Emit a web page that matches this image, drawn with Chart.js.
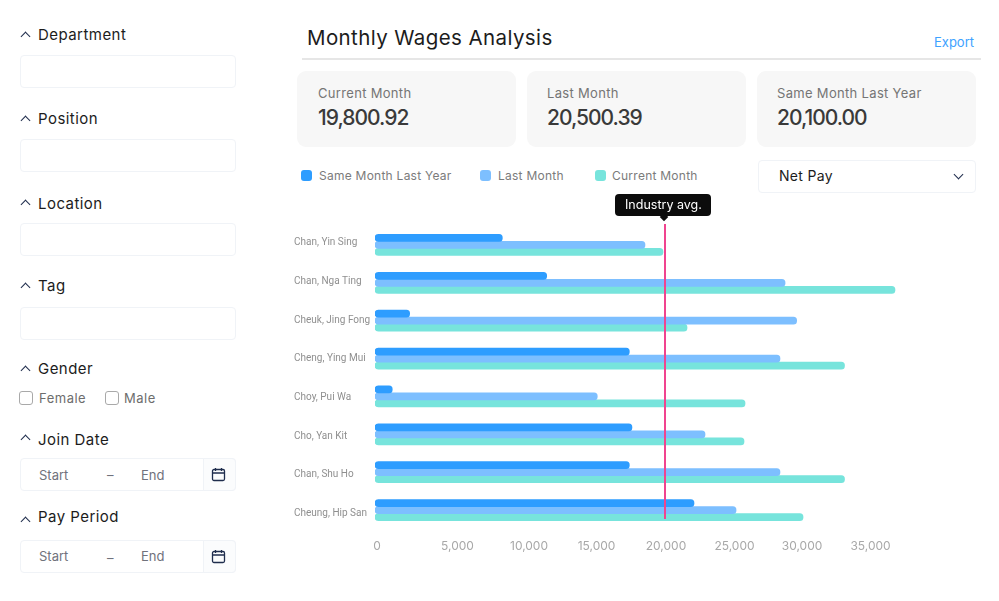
<!DOCTYPE html>
<html>
<head>
<meta charset="utf-8">
<title>Monthly Wages Analysis</title>
<script src="https://cdn.jsdelivr.net/npm/chart.js@4"></script>
<style>
* { box-sizing: border-box; }
html, body { margin: 0; padding: 0; background: #fff; }
body { width: 999px; height: 601px; position: relative; overflow: hidden; font-family: Inter, "Noto Sans", sans-serif; color: #1c1c1c; }
.abs { position: absolute; white-space: nowrap; line-height: 1; }
.head { left: 38px; font-size: 15px; transform: translateY(-50%); letter-spacing: .45px; }
.chev { position: absolute; left: 22px; width: 7px; height: 7px; border-left: 1.5px solid #1f2d4d; border-top: 1.5px solid #1f2d4d; transform: rotate(45deg); }
.box { position: absolute; left: 20px; width: 216px; height: 33px; border: 1px solid #f0f3f7; border-radius: 4px; background: #fff; }
.check { position: absolute; width: 14px; height: 14px; border: 1.5px solid #a9a9a9; border-radius: 3px; top: 391px; }
.small { font-size: 13px; color: #6d6d6d; transform: translateY(-50%); letter-spacing: .5px; }
.date { font-size: 13px; color: #70727c; transform: translateY(-50%); }
.cal { position: absolute; left: 203px; width: 33px; height: 33px; background: #fbfcfd; border: 1px solid #f0f3f7; border-radius: 0 4px 4px 0; }
.cal svg { position: absolute; left: 7px; top: 8px; }
.card { position: absolute; top: 71px; width: 219px; height: 76px; background: #f7f7f7; border-radius: 9px; }
.card .lab { position: absolute; left: 21px; top: 15px; font-size: 13px; color: #757575; line-height: 14px; white-space: nowrap; letter-spacing: .32px; }
.card .val { position: absolute; left: 21px; top: 35px; font-size: 21px; font-weight: 500; color: #3a3a3a; line-height: 24px; white-space: nowrap; letter-spacing: -1px; }
.swatch { position: absolute; top: 170px; width: 11px; height: 11px; border-radius: 3px; }
.leg { font-size: 12px; color: #7b7b7b; top: 176px; transform: translateY(-50%); letter-spacing: .25px; }
canvas { position: absolute; left: 280px; top: 216px; }
</style>
</head>
<body>

<div class="abs head" style="top:34px">Department</div><div class="chev" style="top:33px"></div><div class="box" style="top:55px"></div>
<div class="abs head" style="top:118px">Position</div><div class="chev" style="top:117px"></div><div class="box" style="top:139px"></div>
<div class="abs head" style="top:203px">Location</div><div class="chev" style="top:201px"></div><div class="box" style="top:223px"></div>
<div class="abs head" style="top:285px">Tag</div><div class="chev" style="top:284px"></div><div class="box" style="top:307px"></div>

<div class="abs head" style="top:368px">Gender</div><div class="chev" style="top:367px"></div>
<div class="check" style="left:19px"></div><div class="abs small" style="left:39px;top:398px">Female</div>
<div class="check" style="left:105px"></div><div class="abs small" style="left:124px;top:398px">Male</div>

<div class="abs head" style="top:439px">Join Date</div><div class="chev" style="top:436px"></div>
<div class="box" style="top:458px"></div>
<div class="abs date" style="left:39px;top:475px">Start</div><div class="abs date" style="left:107px;top:475px">–</div><div class="abs date" style="left:141px;top:475px">End</div>
<div class="cal" style="top:458px"><svg width="15" height="15" viewBox="0 0 15 15" fill="none" stroke="#1f2d4d" stroke-width="1.3"><rect x="1.5" y="2.5" width="12" height="11" rx="1.5"/><path d="M1.5 6h12M4.5 1v3M10.500 1v3"/></svg></div>

<div class="abs head" style="top:516px">Pay Period</div><div class="chev" style="top:518px"></div>
<div class="box" style="top:540px"></div>
<div class="abs date" style="left:39px;top:556px">Start</div><div class="abs date" style="left:107px;top:558px">–</div><div class="abs date" style="left:141px;top:556px">End</div>
<div class="cal" style="top:540px"><svg width="15" height="15" viewBox="0 0 15 15" fill="none" stroke="#1f2d4d" stroke-width="1.3"><rect x="1.5" y="2.5" width="12" height="11" rx="1.5"/><path d="M1.5 6h12M4.5 1v3M10.500 1v3"/></svg></div>

<div class="abs" style="left:307px;top:27px;font-size:20.500px;line-height:22px;letter-spacing:.4px">Monthly Wages Analysis</div>
<div class="abs" style="left:934px;top:36px;font-size:13px;color:#3ea2ff">Export</div>
<div style="position:absolute;left:302px;top:58px;width:679px;height:2px;background:#e6e6e6"></div>

<div class="card" style="left:297px"><div class="lab">Current Month</div><div class="val">19,800.92</div></div>
<div class="card" style="left:527px"><div class="lab" style="left:20px">Last Month</div><div class="val" style="left:20px">20,500.39</div></div>
<div class="card" style="left:757px"><div class="lab" style="left:20px">Same Month Last Year</div><div class="val" style="left:20px">20,100.00</div></div>

<div id="legend"></div>

<div style="position:absolute;left:758px;top:160px;width:218px;height:33px;border:1px solid #f0f3f7;border-radius:4px"></div>
<div class="abs" style="left:779px;top:176px;font-size:14px;letter-spacing:.3px;transform:translateY(-50%)">Net Pay</div>
<div class="chev" style="left:955px;top:171px;transform:rotate(225deg)"></div>

<canvas id="wagesChart" width="640" height="343"></canvas>

<div style="position:absolute;left:615px;top:194px;width:96px;height:22px;background:#0c0c0c;border-radius:4px"></div>
<div style="position:absolute;left:661px;top:214px;width:6px;height:6px;background:#0c0c0c;transform:rotate(45deg)"></div>
<div class="abs" style="left:625px;top:205px;font-size:12.500px;color:#fff;transform:translateY(-50%)">Industry avg.</div>

<script>
const employees = [
    "Chan, Yin Sing",
    "Chan, Nga Ting",
    "Cheuk, Jing Fong",
    "Cheng, Ying Mui",
    "Choy, Pui Wa",
    "Cho, Yan Kit",
    "Chan, Shu Ho",
    "Cheung, Hip San"
];

const sameMonthLastYear = [8780, 11840, 2390, 17540, 1190, 17720, 17540, 22000];
const lastMonth = [18620, 28280, 29080, 27930, 15330, 22760, 27930, 24900];
const currentMonth = [19860, 35860, 21520, 32380, 25520, 25450, 32380, 29520];

const seriesNames = ["Same Month Last Year", "Last Month", "Current Month"];
const seriesColors = ["#2e9dff", "#7dbfff", "#77e4dc"];

const tickValues = [0, 5000, 10000, 15000, 20000, 25000, 30000, 35000];
const industryAvg = 20000;

/* the reference's axis labels do not sit quite on their values */
const xTickNudge = [2, 10, 9, 4, 1, -3, -8, -12];
const yTickNudge = [-2, -1, 0, 0, 1, 2, 2.5, 3];


/* LEGEND */

const legendX = [301, 480, 595];
const legendTextX = [319, 498, 612];

document.getElementById("legend").innerHTML = seriesNames.map((name, i) =>
    `<div class="swatch" style="left:${legendX[i]}px;background:${seriesColors[i]}"></div>` +
    `<div class="abs leg" style="left:${legendTextX[i]}px">${name}</div>`
).join("");


/* CHART */

/* a scale can update more than once, so always start from the prototype's method */
const nudgeTicks = nudge => scale => {
    const getPixel = Object.getPrototypeOf(scale).getPixelForTick;
    scale.getPixelForTick = i => getPixel.call(scale, i) + nudge[i];
};

const avgLine = {
    id: "avgLine",
    afterDatasetsDraw(chart) {
        const x = chart.scales.x.getPixelForValue(industryAvg);
        const y = chart.scales.y;
        const c = chart.ctx;
        c.save();
        c.strokeStyle = "#f0448f";
        c.lineWidth = 2;
        c.beginPath();
        c.moveTo(x, y.top - 2);
        c.lineTo(x, y.getPixelForValue(employees.length - 1) + 9);
        c.stroke();
        c.restore();
    }
};

new Chart(document.getElementById("wagesChart"), {

    type: "bar",

    data: {
        labels: employees,
        datasets: [sameMonthLastYear, lastMonth, currentMonth].map((values, i) => ({
            label: seriesNames[i],
            data: values,
            backgroundColor: seriesColors[i],
            barThickness: 7,
            borderRadius: 4,
            borderSkipped: false
        }))
    },

    plugins: [avgLine],

    options: {
        indexAxis: "y",
        responsive: false,
        animation: false,
        layout: {
            padding: { left: 14, right: 23, top: 1, bottom: 0 }
        },
        plugins: {
            legend: { display: false },
            tooltip: { enabled: false }
        },
        scales: {
            y: {
                afterFit: scale => { scale.width = 81; },
                afterUpdate: nudgeTicks(yTickNudge),
                border: { display: false },
                grid: { display: false },
                ticks: {
                    crossAlign: "far",
                    padding: 4,
                    color: "#8f8f8f",
                    font: { family: "Roboto", size: 10 }
                }
            },
            x: {
                min: 0,
                max: 36000,
                afterFit: scale => { scale.height = 30; },
                afterBuildTicks: scale => {
                    scale.ticks = tickValues.map(value => ({ value }));
                },
                afterUpdate: nudgeTicks(xTickNudge),
                border: { display: false },
                grid: { display: false },
                ticks: {
                    autoSkip: false,
                    maxRotation: 0,
                    padding: 2,
                    color: "#a8a8a8",
                    font: { family: "Inter", size: 12 },
                    callback: value => value.toLocaleString("en-US")
                }
            }
        }
    }

});
</script>
</body>
</html>
